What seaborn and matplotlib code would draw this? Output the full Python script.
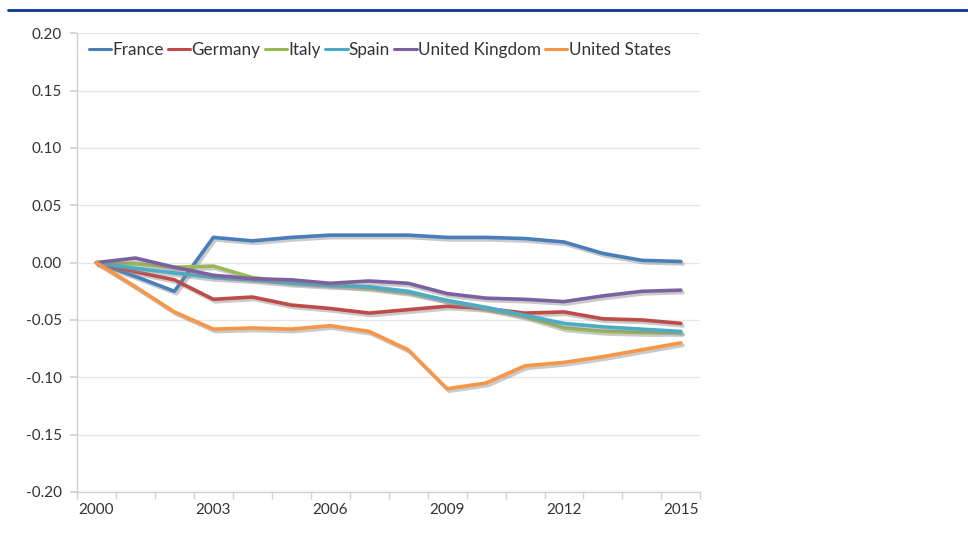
import matplotlib
matplotlib.use("Agg")
import matplotlib.pyplot as plt
import matplotlib.patheffects as pe
import seaborn as sns
import pandas as pd
import numpy as np

years = list(range(2000, 2016))

france = [0.000, -0.012, -0.025, 0.022, 0.019, 0.022, 0.024, 0.024, 0.024, 0.022,
          0.022, 0.021, 0.018, 0.008, 0.002, 0.001]
germany = [0.000, -0.008, -0.015, -0.032, -0.030, -0.037, -0.040, -0.044, -0.041, -0.038,
           -0.040, -0.044, -0.043, -0.049, -0.050, -0.053]
italy = [0.000, -0.001, -0.004, -0.003, -0.013, -0.017, -0.019, -0.022, -0.026, -0.033,
         -0.040, -0.047, -0.057, -0.060, -0.061, -0.061]
spain = [0.000, -0.005, -0.009, -0.013, -0.015, -0.018, -0.020, -0.021, -0.025, -0.033,
         -0.039, -0.046, -0.053, -0.056, -0.058, -0.060]
uk = [0.000, 0.004, -0.004, -0.011, -0.014, -0.015, -0.018, -0.016, -0.018, -0.027,
      -0.031, -0.032, -0.034, -0.029, -0.025, -0.024]
us = [0.000, -0.021, -0.043, -0.058, -0.057, -0.058, -0.055, -0.060, -0.076, -0.110,
      -0.105, -0.090, -0.087, -0.082, -0.076, -0.070]

countries = ["France", "Germany", "Italy", "Spain", "United Kingdom", "United States"]
series = [france, germany, italy, spain, uk, us]
colors = ["#4A7EBB", "#BE4B48", "#98B954", "#4BACC6", "#7D60A0", "#F79646"]

year_ticks = [2000, 2003, 2006, 2009, 2012, 2015]
y_ticks = [-0.20, -0.15, -0.10, -0.05, 0.00, 0.05, 0.10, 0.15, 0.20]

df = pd.DataFrame({
    "idx": np.tile(np.arange(len(years)), len(countries)),
    "value": np.concatenate(series),
    "country": np.repeat(countries, len(years)),
})

sns.set_theme(style="white")
plt.rcParams["font.family"] = ["Lato", "DejaVu Sans"]

fig = plt.figure(figsize=(9.68, 5.46), dpi=100)
ax = fig.add_axes([0.0795, 0.099, 0.644, 0.840])

sns.lineplot(data=df, x="idx", y="value", hue="country", hue_order=countries,
             palette=colors, linewidth=2.6, ax=ax, legend=True,
             path_effects=[pe.SimpleLineShadow(offset=(1.5, -1.8), shadow_color="#8A8A8A", alpha=0.45),
                           pe.Normal()])

ax.set_xlim(-0.5, len(years) - 0.5)
ax.set_ylim(-0.20, 0.20)
ax.set_yticks(y_ticks)
ax.set_yticklabels([f"{v:.2f}" for v in y_ticks])
ax.set_xticks([years.index(y) for y in year_ticks])
ax.set_xticklabels([str(y) for y in year_ticks])
ax.set_xticks(np.arange(-0.5, len(years)), minor=True)
ax.set_xlabel("")
ax.set_ylabel("")

ax.grid(axis="y", color="#E6E6E6", linewidth=1.0)
ax.set_axisbelow(True)
for side in ["top", "right"]:
    ax.spines[side].set_visible(False)
for side in ["left", "bottom"]:
    ax.spines[side].set_color("#D0D0D0")
    ax.spines[side].set_linewidth(1.0)

ax.tick_params(axis="y", which="major", length=5, color="#D0D0D0", labelsize=11,
               labelcolor="#333333", left=True, pad=6)
ax.tick_params(axis="x", which="major", length=0, labelsize=11, labelcolor="#333333", pad=8)
ax.tick_params(axis="x", which="minor", length=5, color="#D0D0D0", bottom=True)

leg = ax.legend(loc="upper left", bbox_to_anchor=(0.008, 0.995), ncol=6, frameon=False,
                fontsize=12.3, handlelength=1.3, handletextpad=0.08, columnspacing=0.25,
                borderaxespad=0.0)
for t in leg.get_texts():
    t.set_color("#333333")
for h in leg.get_lines():
    h.set_linewidth(2.2)
    h.set_path_effects([pe.Normal()])

# Header rule across the top of the figure
fig.add_artist(plt.Line2D([0.008, 1.0], [0.982, 0.982], transform=fig.transFigure,
                          color="#0A3696", linewidth=2.0))

fig.savefig("out.png", dpi=100)
